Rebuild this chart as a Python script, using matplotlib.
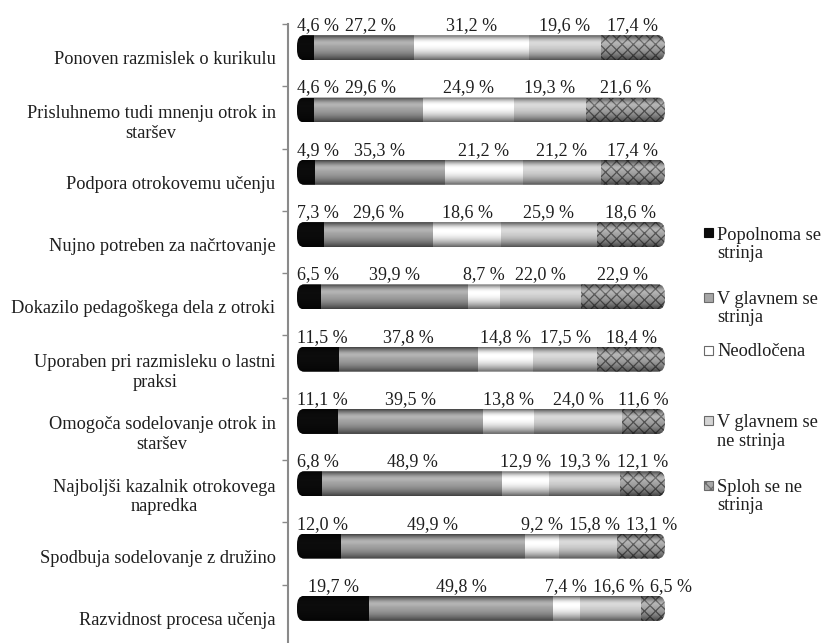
import matplotlib
matplotlib.use("Agg")
import matplotlib.pyplot as plt
import numpy as np
from matplotlib.patches import FancyBboxPatch, Rectangle

plt.rcParams['font.family'] = ['Liberation Serif', 'DejaVu Serif']
plt.rcParams['hatch.linewidth'] = 0.9

# ---------------- data ----------------
categories = [
    "Ponoven razmislek o kurikulu",
    "Prisluhnemo tudi mnenju otrok in\nstaršev",
    "Podpora otrokovemu učenju",
    "Nujno potreben za načrtovanje",
    "Dokazilo pedagoškega dela z otroki",
    "Uporaben pri razmisleku o lastni\npraksi",
    "Omogoča sodelovanje otrok in\nstaršev",
    "Najboljši kazalnik otrokovega\nnapredka",
    "Spodbuja sodelovanje z družino",
    "Razvidnost procesa učenja",
]
series_names = ["Popolnoma se\nstrinja", "V glavnem se\nstrinja", "Neodločena",
                "V glavnem se\nne strinja", "Sploh se ne\nstrinja"]
popolnoma = [4.6, 4.6, 4.9, 7.3, 6.5, 11.5, 11.1, 6.8, 12.0, 19.7]
v_glavnem = [27.2, 29.6, 35.3, 29.6, 39.9, 37.8, 39.5, 48.9, 49.9, 49.8]
neodlocena = [31.2, 24.9, 21.2, 18.6, 8.7, 14.8, 13.8, 12.9, 9.2, 7.4]
ne_strinja = [19.6, 19.3, 21.2, 25.9, 22.0, 17.5, 24.0, 19.3, 15.8, 16.6]
sploh = [17.4, 21.6, 17.4, 18.6, 22.9, 18.4, 11.6, 12.1, 13.1, 6.5]
series = [popolnoma, v_glavnem, neodlocena, ne_strinja, sploh]

# ---------------- style ----------------
facecolors = ['#0c0c0c', '#a6a6a6', '#ffffff', '#d4d4d4', '#a8a8a8']
hatchcols = ['#0c0c0c', '#a6a6a6', '#ffffff', '#d4d4d4', '#555555']
hatches = [None, None, None, None, 'xxx']
txtcol = '#1e1e1e'
FS_CAT = 13.25
FS_LAB = 13.0

W, H = 821, 643
fig = plt.figure(figsize=(W / 100, H / 100), dpi=100)
ax_left_px, ax_top_px, ax_right_px, ax_bot_px = 288, 24, 690, 647
ax = fig.add_axes([ax_left_px / W, 1 - ax_bot_px / H,
                   (ax_right_px - ax_left_px) / W, (ax_bot_px - ax_top_px) / H])

x0px, x100px = 297, 665
ppu = (x100px - x0px) / 100.0
xlim = (-(x0px - ax_left_px) / ppu, 100 + (ax_right_px - x100px) / ppu)
n = len(categories)
ppy = (ax_bot_px - ax_top_px) / n
ylim = (n - 0.5, -0.5)

ypos = np.arange(n) - 0.12
bar_h = 0.40

left = np.zeros(n)
containers = []
for k, vals in enumerate(series):
    c = ax.barh(ypos, vals, left=left, height=bar_h, color=facecolors[k],
                edgecolor=hatchcols[k], linewidth=0, hatch=hatches[k], zorder=2)
    containers.append((c, left.copy(), np.array(vals)))
    left = left + np.array(vals)

totals = left
rx = 7.0 / ppu
ry = 0.17
t = np.linspace(0, 1, 100)
cpos = 0.34
d = np.where(t < cpos, (cpos - t) / cpos, (t - cpos) / (1 - cpos))
alpha_dark = 0.62 * d ** 2.0
# subtle highlight near the top third
alpha_light = 0.18 * np.exp(-((t - 0.28) / 0.12) ** 2)
shade = np.zeros((100, 1, 4))
shade[:, 0, 3] = alpha_dark
light = np.ones((100, 1, 4))
light[:, 0, 3] = alpha_light

for i in range(n):
    clip = FancyBboxPatch((0, ypos[i] - bar_h / 2), totals[i], bar_h,
                          boxstyle=f"round,pad=0,rounding_size={rx}",
                          mutation_aspect=ry / rx, transform=ax.transData,
                          facecolor='none', edgecolor='none')
    for c, _, _ in containers:
        c[i].set_clip_path(clip)
    ext = (0, totals[i], ypos[i] + bar_h / 2, ypos[i] - bar_h / 2)
    # highlight only over the non-black part
    ext_l = (popolnoma[i], totals[i], ypos[i] + bar_h / 2, ypos[i] - bar_h / 2)
    im2 = ax.imshow(light, extent=ext_l, aspect='auto', zorder=3,
                    interpolation='bilinear', origin='upper')
    im2.set_clip_path(clip)
    im = ax.imshow(shade, extent=ext, aspect='auto', zorder=3.1,
                   interpolation='bilinear', origin='upper')
    im.set_clip_path(clip)

ax.set_xlim(*xlim)
ax.set_ylim(*ylim)

# data labels
label_texts = []
for i in range(n):
    row = []
    for c, lefts, vals in containers:
        xc = lefts[i] + vals[i] / 2
        s = f"{vals[i]:.1f}".replace('.', ',') + " %"
        tx = ax.text(xc, ypos[i] - bar_h / 2 - 5 / ppy, s, ha='center', va='baseline',
                     fontsize=FS_LAB, color=txtcol, zorder=4)
        row.append(tx)
    label_texts.append(row)

# axes styling
for sp in ['top', 'right', 'bottom']:
    ax.spines[sp].set_visible(False)
ax.spines['left'].set_color('#8a8a8a')
ax.spines['left'].set_linewidth(1.5)
ax.set_xticks([])
ax.set_yticks(np.arange(n) + 0.04)
ax.set_yticklabels(categories, fontsize=FS_CAT, color=txtcol)
for lab in ax.get_yticklabels():
    lab.set_multialignment('center')
ax.tick_params(axis='y', which='major', length=0, pad=9)
ax.set_yticks(np.arange(n + 1) - 0.5, minor=True)
ax.tick_params(axis='y', which='minor', length=4, width=1, color='#8a8a8a', direction='out')
ax.patch.set_visible(False)

# resolve overlaps of data labels (like the spreadsheet layout)
fig.canvas.draw()
renderer = fig.canvas.get_renderer()
gap = 6
for i in range(n):
    start_px = ax.transData.transform((0, 0))[0]
    prev_right = start_px - gap
    for tx in label_texts[i]:
        w = tx.get_window_extent(renderer).width
        x, y = tx.get_position()
        cx = ax.transData.transform((x, y))[0]
        cx = max(cx, prev_right + gap + w / 2)
        newx = ax.transData.inverted().transform((cx, 0))[0]
        tx.set_position((newx, y))
        prev_right = cx + w / 2

# legend (manual, positioned like the original)
leg_first_line = [233, 297, 351, 420, 485]
line_h = 20.5
for k, name in enumerate(series_names):
    yc = leg_first_line[k]
    nlines = name.count("\n") + 1
    r = Rectangle((704 / W, 1 - (yc + 4.5) / H), 9 / W, 9 / H, transform=fig.transFigure,
                  facecolor=facecolors[k], edgecolor='#6a6a6a' if k else '#0c0c0c',
                  linewidth=0.8, hatch=hatches[k])
    fig.patches.append(r)
    fig.text(717 / W, 1 - (yc + 5 + (nlines - 1) * line_h) / H, name, ha='left',
             va='baseline', fontsize=FS_CAT, color=txtcol, linespacing=1.12)

fig.savefig("out.png", dpi=100)
